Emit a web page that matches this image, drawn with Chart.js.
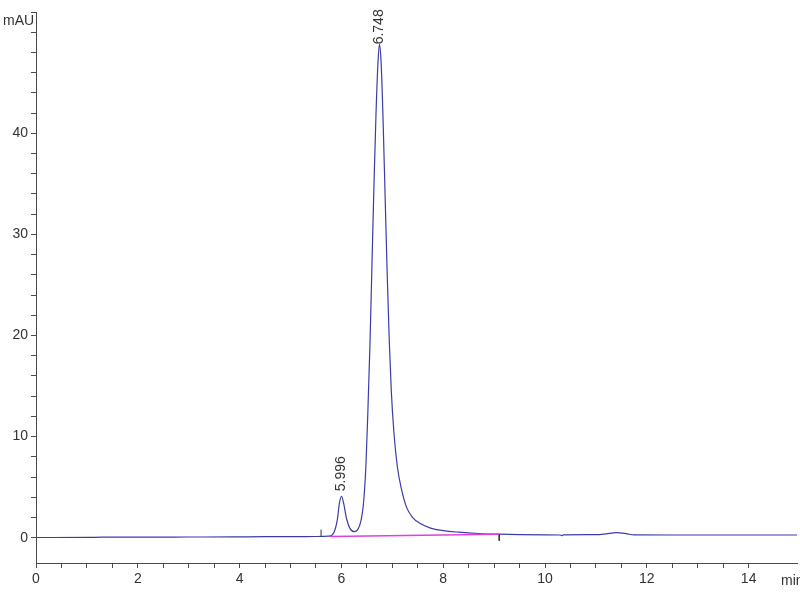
<!DOCTYPE html>
<html>
<head>
<meta charset="utf-8">
<script src="https://cdn.jsdelivr.net/npm/chart.js@4"></script>
<style>
  html, body { margin: 0; padding: 0; background: #fff; }
  #wrap { width: 800px; height: 600px; position: relative; }
</style>
</head>
<body>
<div id="wrap"><canvas id="chromChart"></canvas></div>
<script>
// retention time (min) and absorbance (mAU)
const times = [0, 1.0, 1.3, 2.0, 3.0, 3.9, 4.5, 5.0, 5.5, 5.75, 5.85, 5.92, 5.96, 6.0, 6.04, 6.1, 6.17, 6.25,
  6.32, 6.38, 6.43, 6.48, 6.52, 6.56, 6.6, 6.64, 6.68, 6.72, 6.748, 6.78, 6.82, 6.86, 6.9, 6.94, 6.98,
  7.03, 7.1, 7.18, 7.28, 7.4, 7.55, 7.75, 8.0, 8.3, 8.7, 9.1, 9.5, 10.0, 10.3, 10.33, 10.36, 11.0, 11.2,
  11.4, 11.6, 11.75, 12.5, 14.95];
const signal = [0.02, 0.03, 0.05, 0.06, 0.07, 0.08, 0.1, 0.1, 0.12, 0.15, 0.5, 1.8, 3.4, 4.1, 3.5, 1.9, 0.9, 0.6,
  0.8, 1.6, 3.2, 7.0, 12.5, 19.0, 27.0, 35.0, 42.0, 47.2, 48.8, 47.0, 41.0, 33.5, 26.0, 19.5, 14.5,
  10.5, 7.0, 4.8, 3.0, 2.0, 1.4, 0.95, 0.7, 0.55, 0.42, 0.35, 0.3, 0.28, 0.27, 0.2, 0.28, 0.3, 0.38,
  0.5, 0.4, 0.28, 0.27, 0.27];

// integration baseline (magenta) and its start / end markers
const baseTimes = [5.78, 9.1];
const baseValues = [0.12, 0.35];
const markStart = { t: 5.6, from: 0.1, to: 0.8 };
const markEnd = { t: 9.1, from: 0.3, to: -0.3 };

// peak annotations
const peakTimes = [5.996, 6.748];
const peakHeights = [4.1, 48.8];
const peakLabels = ['5.996', '6.748'];

const xTickLabels = ['0', '2', '4', '6', '8', '10', '12', '14'];
const yTickLabels = ['0', '10', '20', '30', '40'];

const tickFont = { family: '"Liberation Sans Narrow", "Arial Narrow", "Liberation Sans", Arial, sans-serif', size: 14 };
const axisColor = '#4a4a4a';

const pts = (xs, ys) => xs.map((x, i) => ({ x, y: ys[i] }));

const textPlugin = {
  id: 'chromText',
  afterDatasetsDraw(chart) {
    const { ctx, scales: { x, y } } = chart;
    ctx.save();
    ctx.fillStyle = '#333';
    ctx.font = '14px "Liberation Sans", Arial, sans-serif';
    ctx.textBaseline = 'middle';
    peakTimes.forEach((t, i) => {
      const px = x.getPixelForValue(t);
      const py = y.getPixelForValue(peakHeights[i]) - (i === 1 ? 0 : 5);
      ctx.save();
      ctx.translate(px, py);
      ctx.rotate(-Math.PI / 2);
      ctx.textAlign = 'left';
      ctx.fillText(peakLabels[i], 0, 0);
      ctx.restore();
    });
    ctx.font = '14px ' + tickFont.family;
    ctx.textAlign = 'left';
    ctx.fillText('mAU', 3, 21);
    ctx.fillText('min', x.right - 16, 581);
    ctx.restore();
  }
};

new Chart(document.getElementById('chromChart'), {
  type: 'line',
  data: {
    datasets: [
      {
        data: pts(times, signal),
        borderColor: '#3c3ca8',
        borderWidth: 1.2,
        pointRadius: 0,
        cubicInterpolationMode: 'monotone',
        order: 2
      },
      {
        data: pts(baseTimes, baseValues),
        borderColor: '#e040e0',
        borderWidth: 1.5,
        pointRadius: 0,
        order: 1
      },
      {
        data: [{ x: markStart.t, y: markStart.from }, { x: markStart.t, y: markStart.to }],
        borderColor: '#333',
        borderWidth: 1,
        pointRadius: 0
      },
      {
        data: [{ x: markEnd.t, y: markEnd.from }, { x: markEnd.t, y: markEnd.to }],
        borderColor: '#333',
        borderWidth: 1,
        pointRadius: 0
      }
    ]
  },
  options: {
    responsive: true,
    maintainAspectRatio: false,
    animation: false,
    layout: { padding: { top: 12, right: 3, left: 0, bottom: 0 } },
    plugins: { legend: { display: false }, tooltip: { enabled: false } },
    scales: {
      x: {
        type: 'linear',
        min: 0, max: 14.95,
        afterFit: s => { s.height = 37; },
        afterBuildTicks: s => { s.ticks = s.ticks.filter(t => Math.abs(t.value * 2 - Math.round(t.value * 2)) < 1e-6); },
        border: { color: axisColor, width: 1 },
        grid: { drawOnChartArea: false, tickLength: 5, color: axisColor },
        ticks: {
          stepSize: 0.5, autoSkip: false, maxRotation: 0, padding: 3,
          color: '#333', font: tickFont,
          callback: v => xTickLabels.includes(String(v)) ? String(v) : ''
        }
      },
      y: {
        min: -2.5, max: 52,
        afterFit: s => { s.width = 36; },
        afterBuildTicks: s => { s.ticks = s.ticks.filter(t => Math.abs(t.value / 2 - Math.round(t.value / 2)) < 1e-6); },
        border: { color: axisColor, width: 1 },
        grid: { drawOnChartArea: false, tickLength: 5, color: axisColor },
        ticks: {
          stepSize: 2, autoSkip: false, padding: 3,
          color: '#333', font: tickFont,
          callback: v => yTickLabels.includes(String(v)) ? String(v) : ''
        }
      }
    }
  },
  plugins: [textPlugin]
});
</script>
</body>
</html>
